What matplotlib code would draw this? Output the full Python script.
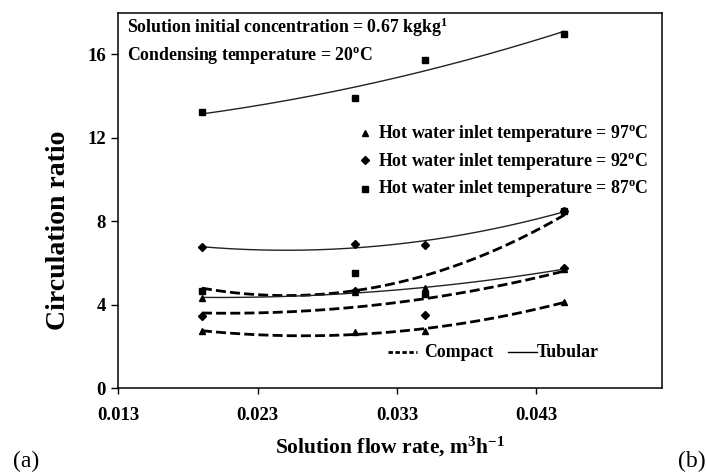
import numpy as np
import matplotlib

matplotlib.use("Agg")
import matplotlib.pyplot as plt

plt.rcParams["font.family"] = ["Liberation Serif", "DejaVu Serif"]
plt.rcParams["mathtext.fontset"] = "custom"
plt.rcParams["mathtext.rm"] = "Liberation Serif:bold"
plt.rcParams["mathtext.it"] = "Liberation Serif:bold"

# solution flow rate, m3/h
flow = [0.019, 0.030, 0.035, 0.045]

# compact absorber, circulation ratio
compact_97 = [2.74, 2.69, 2.75, 4.14]
compact_92 = [3.47, 4.66, 3.50, 5.78]
compact_87 = [4.65, 5.52, 4.54, 8.48]

# tubular absorber, circulation ratio
tubular_97 = [4.35, 4.60, 4.80, 5.72]
tubular_92 = [6.75, 6.92, 6.88, 8.50]
tubular_87 = [13.24, 13.93, 15.74, 17.00]

temps = ["97", "92", "87"]
markers = ["^", "D", "s"]
xticks = [0.013, 0.023, 0.033, 0.043]
yticks = [0, 4, 8, 12, 16]

fig = plt.figure(figsize=(7.06, 4.72), dpi=100)
ax = fig.add_axes([0.1676, 0.1773, 0.7697, 0.7958])

x = np.array(flow)
xs = np.linspace(x.min(), x.max(), 200)

compact = [compact_97, compact_92, compact_87]
tubular = [tubular_97, tubular_92, tubular_87]
msizes = [5, 4, 5]

# second order trendlines, as in the paper
for ys, m, ms in zip(compact, markers, msizes):
    fit = np.polyval(np.polyfit(x, ys, 2), xs)
    ax.plot(xs, fit, color="black", lw=2.0, dashes=(3.6, 1.5))
    ax.plot(x, ys, ls="none", marker=m, ms=ms, color="black")

for ys, m, ms in zip(tubular, markers, msizes):
    fit = np.polyval(np.polyfit(x, ys, 2), xs)
    ax.plot(xs, fit, color="#222222", lw=1.0)
    ax.plot(x, ys, ls="none", marker=m, ms=ms, color="black")

ax.set_xlim(0.013, 0.052)
ax.set_ylim(0, 18)
ax.set_xticks(xticks)
ax.set_xticklabels([f"{t:.3f}" for t in xticks])
ax.set_yticks(yticks)
for s in ax.spines.values():
    s.set_linewidth(1.1)
ax.tick_params(direction="out", width=1.0, labelsize=13.5)
ax.tick_params(axis="x", length=4.5, pad=9)
ax.tick_params(axis="y", length=5, pad=4)
for lab in ax.get_xticklabels() + ax.get_yticklabels():
    lab.set_fontweight("bold")

ax.set_xlabel(r"Solution flow rate, m$^3$h$^{-1}$", fontsize=15.5,
              fontweight="bold")
ax.xaxis.set_label_coords(0.5, -0.125)
ax.set_ylabel("Circulation ratio", fontsize=20, fontweight="bold")
ax.yaxis.set_label_coords(-0.087, 0.42)

# condition notes
ax.text(0.016, 0.9465, r"Solution initial concentration = 0.67 kgkg$^{1}$",
        transform=ax.transAxes, fontsize=12.8, fontweight="bold",
        va="baseline")
ax.text(0.016, 0.874, r"Condensing temperature = 20$^{\rm o}$C",
        transform=ax.transAxes, fontsize=12.8, fontweight="bold",
        va="baseline")

# marker legend
mark_y = [0.681, 0.607, 0.530]
text_y = [0.666, 0.592, 0.519]
for t, m, ms, my, ty in zip(temps, markers, msizes, mark_y, text_y):
    ax.plot([0.4534], [my], transform=ax.transAxes, ls="none", marker=m,
            ms=ms, color="black", clip_on=False)
    ax.text(0.4773, ty, r"Hot water inlet temperature = " + t + r"$^{\rm o}$C",
            transform=ax.transAxes, fontsize=12.8, fontweight="bold",
            va="baseline")

# line style legend
ly = 0.0966
ax.plot([0.496, 0.549], [ly, ly], transform=ax.transAxes, color="black",
        lw=2.0, dashes=(1.6, 0.9))
ax.text(0.563, ly, "Compact", transform=ax.transAxes, fontsize=12.8,
        fontweight="bold", va="center")
ax.plot([0.717, 0.770], [ly, ly], transform=ax.transAxes, color="black", lw=1.0)
ax.text(0.770, ly, "Tubular", transform=ax.transAxes, fontsize=12.8,
        fontweight="bold", va="center")

fig.text(0.018, 0.011, "(a)", fontsize=17)
fig.text(1.0, 0.011, "(b)", fontsize=17, ha="right")

fig.savefig("out.png", dpi=100)
